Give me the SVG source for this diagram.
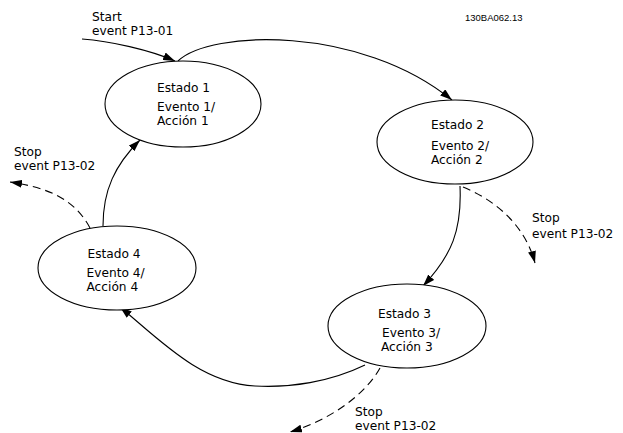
<svg xmlns="http://www.w3.org/2000/svg" width="623" height="433" viewBox="0 0 623 433">
<style>
.n ellipse{fill:#fff;stroke:#000;stroke-width:1.1}
text{font-family:"DejaVu Sans","Verdana",sans-serif;font-size:12.2px;fill:#000}
.c path{fill:none;stroke:#000;stroke-width:1.1}
.c path.d{stroke-dasharray:8 5}
.code{font-family:"Liberation Sans",Arial,sans-serif;font-size:9.5px}
</style>
<defs>
<marker id="ah" viewBox="0 0 12 8" refX="12" refY="4" markerWidth="12" markerHeight="8" markerUnits="userSpaceOnUse" orient="auto">
<path d="M0,0 L12,4 L0,8 Z" fill="#000"/>
</marker>
</defs>
<rect width="623" height="433" fill="#fff"/>
<g id="connectors" class="c">
<path d="M82,39 C110,41 150,50 175,61" marker-end="url(#ah)"/>
<path d="M178,61 C210,30 360,25 452,100" marker-end="url(#ah)"/>
<path d="M460,186 C462,230 452,255 423,286" marker-end="url(#ah)"/>
<path d="M365,365 C330,382 290,388 255,386 C200,383 160,340 120,307" marker-end="url(#ah)"/>
<path d="M103,226 C103,190 115,165 140,140" marker-end="url(#ah)"/>
<path class="d" d="M90,228 C75,200 50,188 10,182" marker-end="url(#ah)"/>
<path class="d" d="M463,187 C495,200 525,225 535,263" marker-end="url(#ah)"/>
<path class="d" d="M380,368 C365,395 330,420 290,432" marker-end="url(#ah)"/>
</g>
<g id="estado1" class="n">
<ellipse cx="183" cy="104" rx="78" ry="43"/>
<text x="157" y="92">Estado 1</text>
<text x="157" y="111">Evento 1/</text>
<text x="157" y="125">Acción 1</text>
</g>
<g id="estado2" class="n">
<ellipse cx="455" cy="142" rx="78" ry="42"/>
<text x="431" y="129">Estado 2</text>
<text x="431" y="149.5">Evento 2/</text>
<text x="431" y="163.5">Acción 2</text>
</g>
<g id="estado3" class="n">
<ellipse cx="407" cy="326" rx="79" ry="42"/>
<text x="378" y="318">Estado 3</text>
<text x="382" y="337">Evento 3/</text>
<text x="381" y="351">Acción 3</text>
</g>
<g id="estado4" class="n">
<ellipse cx="117" cy="268" rx="79" ry="42"/>
<text x="87.5" y="258">Estado 4</text>
<text x="86.5" y="277">Evento 4/</text>
<text x="86.5" y="291">Acción 4</text>
</g>
<g id="labels">
<text x="92" y="20.5">Start</text>
<text x="92" y="34.5">event P13-01</text>
<text x="14" y="156">Stop</text>
<text x="14" y="170">event P13-02</text>
<text x="532" y="222">Stop</text>
<text x="532" y="238">event P13-02</text>
<text x="355" y="416">Stop</text>
<text x="355" y="430">event P13-02</text>
<text class="code" x="465" y="21">130BA062.13</text>
</g>
</svg>
